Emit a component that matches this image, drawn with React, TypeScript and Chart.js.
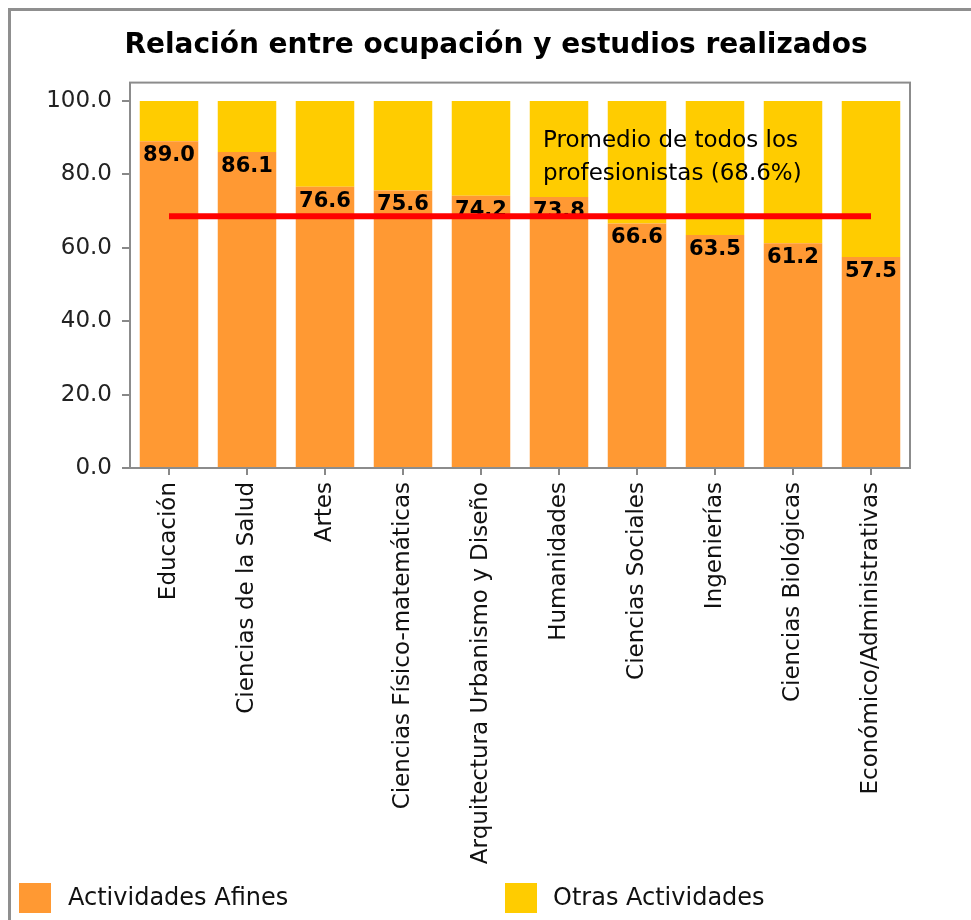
import React, { useEffect, useRef } from "react";
import { Chart, registerables } from "chart.js";

Chart.register(...registerables);

const categories = [
  "Educación",
  "Ciencias de la Salud",
  "Artes",
  "Ciencias Físico-matemáticas",
  "Arquitectura Urbanismo y Diseño",
  "Humanidades",
  "Ciencias Sociales",
  "Ingenierías",
  "Ciencias Biológicas",
  "Económico/Administrativas",
];
const afines = [89.0, 86.1, 76.6, 75.6, 74.2, 73.8, 66.6, 63.5, 61.2, 57.5];
const otras = [11.0, 13.9, 23.4, 24.4, 25.8, 26.2, 33.4, 36.5, 38.8, 42.5];
const promedio = 68.6;
const promedioText = ["Promedio de todos los", "profesionistas (68.6%)"];
const yTicks = [0, 20, 40, 60, 80, 100];
const seriesNames = ["Actividades Afines", "Otras Actividades"];
const titleText = "Relación entre ocupación y estudios realizados";

const ORANGE = "#FF9933";
const YELLOW = "#FFCC00";
const FONT = '"DejaVu Sans"';

const overlay = {
  id: "overlay",
  afterDatasetsDraw(chart: any) {
    const { ctx, chartArea, scales } = chart;
    const x = scales.x;
    const y = scales.y;
    ctx.save();
    // value labels
    ctx.font = `bold 21px ${FONT}`;
    ctx.fillStyle = "#000";
    ctx.textAlign = "center";
    ctx.textBaseline = "top";
    const meta = chart.getDatasetMeta(0);
    meta.data.forEach((bar: any, i: number) => {
      ctx.fillText(afines[i].toFixed(1), bar.x, bar.y + 4);
    });
    // average line
    const yy = y.getPixelForValue(promedio);
    ctx.strokeStyle = "#FF0000";
    ctx.lineWidth = 6;
    ctx.beginPath();
    ctx.moveTo(x.getPixelForValue(0), yy);
    ctx.lineTo(x.getPixelForValue(categories.length - 1), yy);
    ctx.stroke();
    // annotation
    ctx.font = `23px ${FONT}`;
    ctx.fillStyle = "#000";
    ctx.textAlign = "left";
    ctx.textBaseline = "middle";
    ctx.fillText(promedioText[0], chartArea.left + 413, y.getPixelForValue(89));
    ctx.fillText(promedioText[1], chartArea.left + 413, y.getPixelForValue(80));
    // plot border
    ctx.strokeStyle = "#8c8c8c";
    ctx.lineWidth = 2;
    ctx.strokeRect(
      chartArea.left,
      chartArea.top,
      chartArea.right - chartArea.left,
      chartArea.bottom - chartArea.top
    );
    ctx.restore();
  },
  afterDraw(chart: any) {
    const { ctx } = chart;
    ctx.save();
    const boxes = [
      { color: ORANGE, bx: 8, tx: 57, label: seriesNames[0] },
      { color: YELLOW, bx: 494, tx: 542, label: seriesNames[1] },
    ];
    ctx.font = `24px ${FONT}`;
    ctx.textAlign = "left";
    ctx.textBaseline = "middle";
    boxes.forEach((b) => {
      ctx.fillStyle = b.color;
      ctx.fillRect(b.bx, 872, 32, 30);
      ctx.fillStyle = "#111";
      ctx.fillText(b.label, b.tx, 888);
    });
    ctx.restore();
  },
};

export default function App() {
  const ref = useRef<HTMLCanvasElement | null>(null);
  useEffect(() => {
    document.documentElement.style.overflow = "hidden";
    const chart = new Chart(ref.current as HTMLCanvasElement, {
      type: "bar",
      data: {
        labels: categories,
        datasets: [
          {
            label: seriesNames[0],
            data: afines,
            backgroundColor: ORANGE,
            borderWidth: 0,
            yAxisID: "y",
          },
          {
            label: seriesNames[1],
            data: otras,
            backgroundColor: YELLOW,
            borderWidth: 0,
            yAxisID: "y",
          },
        ],
      },
      options: {
        responsive: false,
        animation: false,
        devicePixelRatio: 1,
        datasets: { bar: { categoryPercentage: 1, barPercentage: 0.75 } },
        layout: { padding: 0 },
        plugins: {
          legend: { display: false },
          tooltip: { enabled: false },
          title: {
            display: true,
            text: titleText,
            color: "#000",
            font: { family: FONT, size: 28, weight: "bold" },
            padding: { top: 18, bottom: 20 },
          },
        },
        scales: {
          x: {
            stacked: true,
            grid: {
              display: true,
              drawOnChartArea: false,
              offset: false,
              tickLength: 7,
              color: "#888",
              lineWidth: 2,
            },
            border: { display: false },
            ticks: {
              autoSkip: false,
              minRotation: 90,
              maxRotation: 90,
              padding: 7,
              color: "#111",
              font: { family: FONT, size: 23 },
            },
            afterFit: (s: any) => {
              s.height = 452;
            },
          },
          y: {
            stacked: true,
            position: "left",
            min: 0,
            max: 105,
            grid: {
              display: true,
              drawOnChartArea: false,
              tickLength: 8,
              color: "#888",
              lineWidth: 2,
            },
            border: { display: false },
            ticks: {
              padding: 10,
              color: "#222",
              font: { family: FONT, size: 23 },
              callback: (v: any) => Number(v).toFixed(1),
            },
            afterBuildTicks: (s: any) => {
              s.ticks = yTicks.map((v) => ({ value: v }));
            },
            afterFit: (s: any) => {
              s.width = 119;
            },
          },
          y2: {
            position: "right",
            display: true,
            grid: { display: false },
            border: { display: false },
            ticks: { display: false },
            afterFit: (s: any) => {
              s.width = 71;
            },
          },
        },
      },
      plugins: [overlay],
    });
    return () => chart.destroy();
  }, []);
  return (
    <div
      style={{
        position: "absolute",
        left: 8,
        top: 8,
        borderTop: "3px solid #8f8f8f",
        borderLeft: "3px solid #8f8f8f",
        width: 970,
        height: 909,
        overflow: "hidden",
      }}
    >
      <canvas
        ref={ref}
        width={970}
        height={909}
        style={{ display: "block", width: 970, height: 909 }}
      />
    </div>
  );
}
